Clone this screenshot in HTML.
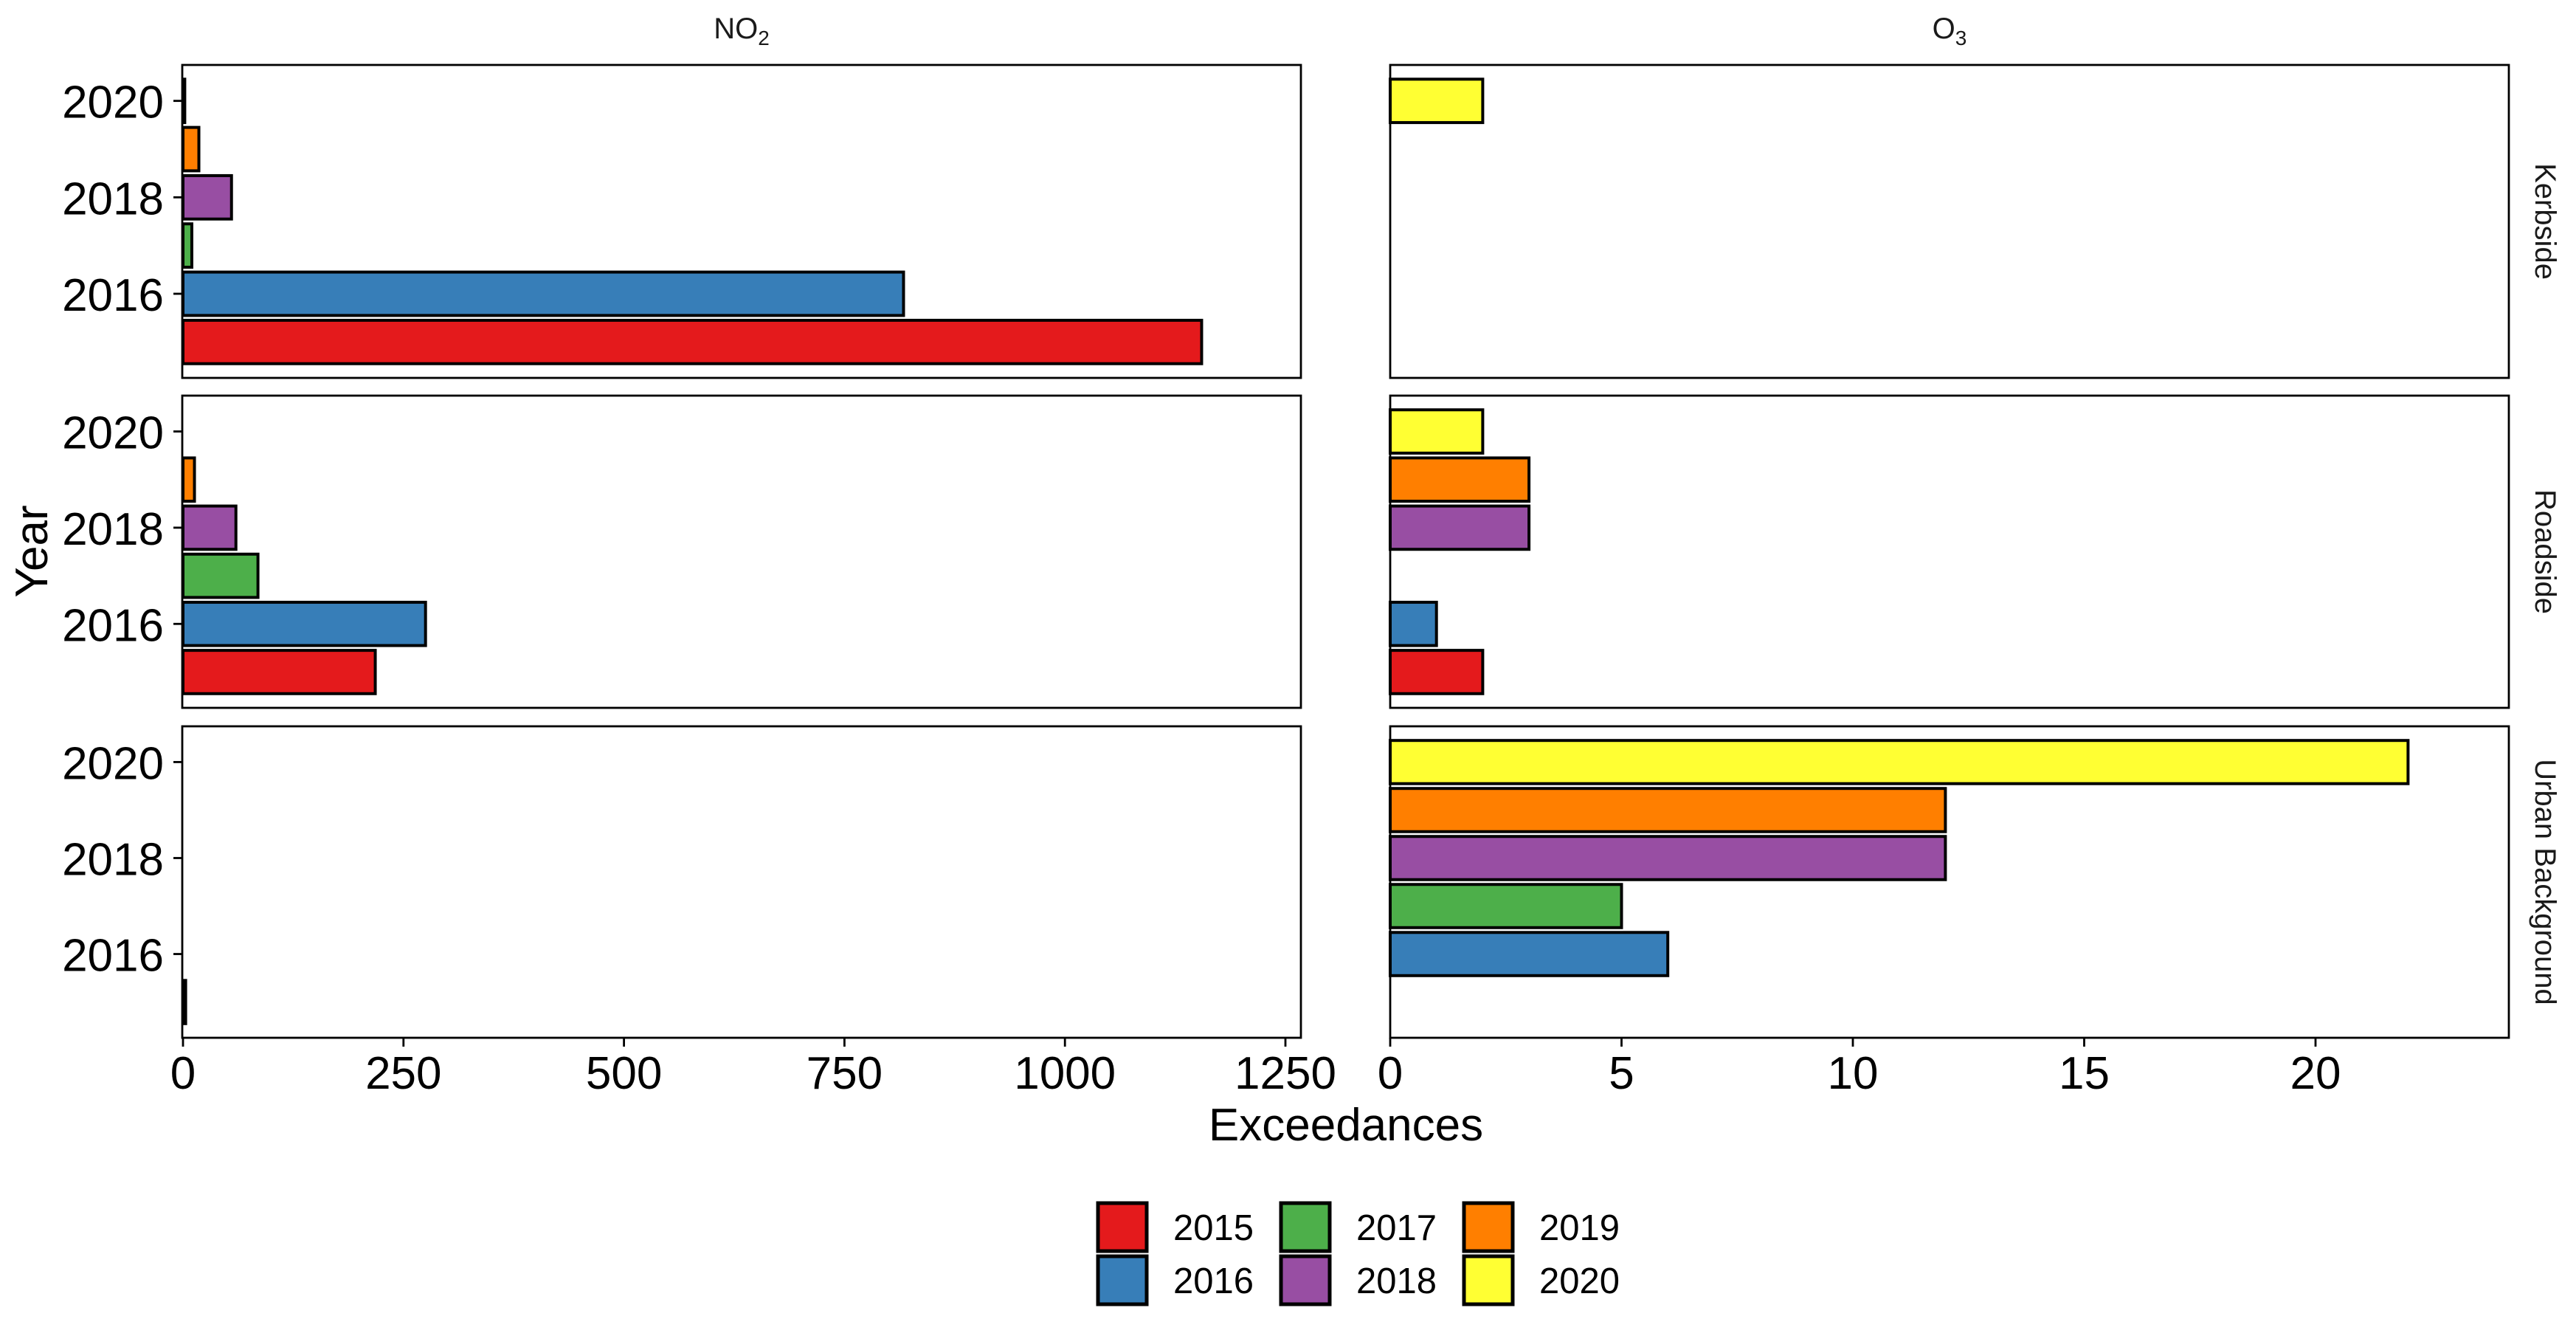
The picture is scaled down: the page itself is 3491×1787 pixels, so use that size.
<!DOCTYPE html>
<html><head><meta charset="utf-8"><style>
html,body{margin:0;padding:0;background:#fff}
svg{display:block;font-family:"Liberation Sans",sans-serif}
</style></head><body>
<svg id="chart" width="3491" height="1787" viewBox="0 0 3491 1787" xmlns="http://www.w3.org/2000/svg"></svg>
<script>
const years = [2015, 2016, 2017, 2018, 2019, 2020];
const colors = ["#E41A1C","#377EB8","#4DAF4A","#984EA3","#FF7F00","#FFFF33"];
const pollutants = ["NO2","O3"];
const sites = ["Kerbside","Roadside","Urban Background"];
const no2Kerbside = [1155, 817, 10, 55, 18, 2];
const no2Roadside = [218, 275, 85, 60, 13, null];
const no2Urban = [3, null, null, null, null, null];
const o3Kerbside = [null, null, null, null, null, 2];
const o3Roadside = [2, 1, null, 3, 3, 2];
const o3Urban = [null, 6, 5, 12, 12, 22];
const no2Ticks = [0, 250, 500, 750, 1000, 1250];
const o3Ticks = [0, 5, 10, 15, 20];
const yTicks = [2016, 2018, 2020];

const NS = "http://www.w3.org/2000/svg";
const svg = document.getElementById("chart");
function mk(tag, attrs, parent){const e=document.createElementNS(NS,tag);for(const k in attrs)e.setAttribute(k,attrs[k]);(parent||svg).appendChild(e);return e;}

const colX = [{x0:248, perUnit:1.1952, left:247, w:1516},{x0:1884, perUnit:62.7, left:1884, w:1516}];
const rowY = [{top:88,h:424},{top:536,h:423},{top:984,h:422}];
const data = [[no2Kerbside,no2Roadside,no2Urban],[o3Kerbside,o3Roadside,o3Urban]];
const yMin = 2014.255, yMax = 2020.745;
function yScale(row, v){const r=rowY[row];return r.top + (yMax - v)/(yMax - yMin)*r.h;}
function xScale(col, v){return colX[col].x0 + v*colX[col].perUnit;}

for(let c=0;c<2;c++){
  for(let r=0;r<3;r++){
    const g = mk("g",{});
    
    
    const vals = data[c][r];
    const bh = 0.9/(yMax-yMin)*rowY[r].h;
    vals.forEach((v,i)=>{
      if(v===null) return;
      const yc = yScale(r, years[i]);
      const x0 = xScale(c,0);
      const rect = mk("rect",{x:x0, y:yc-bh/2, width:Math.max(xScale(c,v)-x0,0.5), height:bh, fill:colors[i], stroke:"#000", "stroke-width":4}, g);
      
      
    });
    const border = mk("rect",{x:colX[c].left, y:rowY[r].top, width:colX[c].w, height:rowY[r].h, fill:"none", stroke:"#000", "stroke-width":2.8}, g);
    
    
    if(c===0){
      yTicks.forEach(t=>{
        const y=yScale(r,t);
        mk("line",{x1:colX[0].left-12,x2:colX[0].left,y1:y,y2:y,stroke:"#000","stroke-width":2.8},g);
        const tx = mk("text",{x:colX[0].left-25,y:y+23,"text-anchor":"end","font-size":62,fill:"#000"},g);
        tx.textContent = t;
        
        
      });
    }
    if(c===1){
      const sx = 3450, sy = rowY[r].top + rowY[r].h/2;
      const st = mk("text",{x:sx,y:sy,"text-anchor":"middle","font-size":40,fill:"#1a1a1a",transform:`rotate(90 ${sx} ${sy})`,dy:14});
      st.textContent = sites[r];
      
      
    }
  }
  const ticks = c===0?no2Ticks:o3Ticks;
  const by = rowY[2].top+rowY[2].h;
  ticks.forEach(t=>{
    const x = xScale(c,t);
    mk("line",{x1:x,x2:x,y1:by,y2:by+12,stroke:"#000","stroke-width":2.8});
    const tx = mk("text",{x:x,y:by+69,"text-anchor":"middle","font-size":62,fill:"#000"});
    tx.textContent = t;
    
    
  });
  const strip = mk("text",{x:colX[c].left+colX[c].w/2,y:52,"text-anchor":"middle","font-size":40,fill:"#1a1a1a"});
  
  
  strip.appendChild(document.createTextNode(pollutants[c].slice(0,-1)));
  const sub = mk("tspan",{"font-size":28,dy:9},strip);
  sub.textContent = pollutants[c].slice(-1);
}

const xt = mk("text",{x:1824,y:1545,"text-anchor":"middle","font-size":62,fill:"#000"});
xt.textContent="Exceedances";


const yt = mk("text",{x:64,y:747,"text-anchor":"middle","font-size":62,fill:"#000",transform:"rotate(-90 64 747)"});
yt.textContent="Year";



years.forEach((yr,i)=>{
  const col=Math.floor(i/2), row=i%2;
  const kx=1488+col*248, ky=1630+row*72;
  const g=mk("g",{});
  
  
  mk("rect",{x:kx,y:ky,width:66,height:65,fill:colors[i],stroke:"#000","stroke-width":5},g);
  const t=mk("text",{x:kx+102,y:ky+50,"font-size":49,fill:"#000"},g);
  t.textContent=yr;
});
</script>
</body></html>
